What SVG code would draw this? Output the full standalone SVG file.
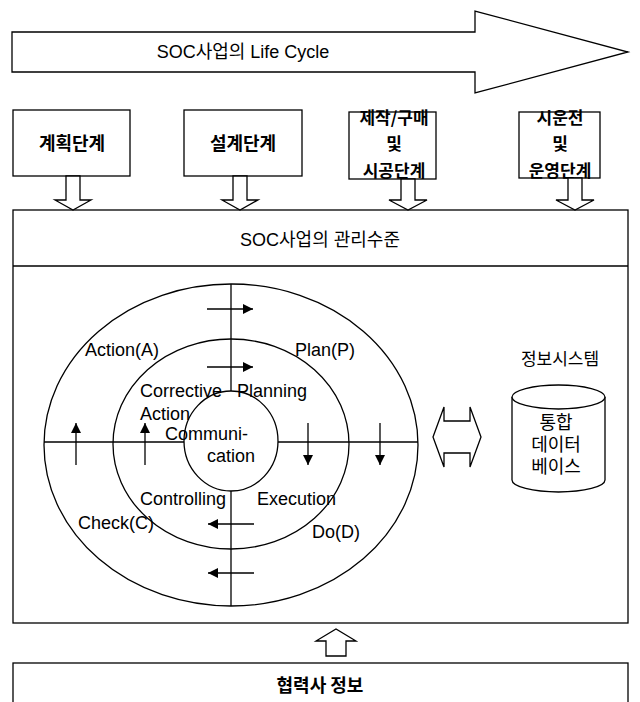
<svg xmlns="http://www.w3.org/2000/svg" width="640" height="702" viewBox="0 0 640 702">
<defs>
<style>
.ln{fill:none;stroke:#000;stroke-width:1.3}
.sh{fill:#fff;stroke:#000;stroke-width:1.3}
.kr{font-family:"Liberation Sans","Noto Sans CJK KR",sans-serif;fill:#000}
.krb{font-family:"Noto Sans CJK KR","Liberation Sans",sans-serif;font-weight:bold;fill:#000}
.en{font-family:"Liberation Sans",Arial,sans-serif;font-size:18px;fill:#000}
.ar{fill:none;stroke:#000;stroke-width:1.3}
</style>
<marker id="ah" markerUnits="userSpaceOnUse" markerWidth="11" markerHeight="11" refX="10" refY="5" orient="auto">
<path d="M0,0 L10,5 L0,10 Z" fill="#000"/>
</marker>
</defs>
<rect width="640" height="702" fill="#fff"/>

<g id="lifecycle">
<polygon class="sh" points="12,32 475,32 475,11 628,52 475,93 475,72 12,72"/>
<text class="kr" x="243" y="58" font-size="18" text-anchor="middle">SOC사업의 Life Cycle</text>
</g>

<g id="stage1">
<rect class="sh" x="13" y="110" width="117" height="66"/>
<text class="krb" x="72" y="150" font-size="18" text-anchor="middle">계획단계</text>
</g>
<g id="stage2">
<rect class="sh" x="184" y="110" width="118" height="66"/>
<text class="krb" x="243" y="150" font-size="18" text-anchor="middle">설계단계</text>
</g>
<g id="stage3">
<rect class="sh" x="349" y="112" width="87" height="67"/>
<text class="krb" x="394" y="124" font-size="17" text-anchor="middle">제작/구매</text>
<text class="krb" x="394" y="150" font-size="17" text-anchor="middle">및</text>
<text class="krb" x="394" y="177" font-size="17" text-anchor="middle">시공단계</text>
</g>
<g id="stage4">
<rect class="sh" x="519" y="112" width="81" height="66"/>
<text class="krb" x="560" y="124" font-size="17" text-anchor="middle">시운전</text>
<text class="krb" x="560" y="150" font-size="17" text-anchor="middle">및</text>
<text class="krb" x="560" y="177" font-size="17" text-anchor="middle">운영단계</text>
</g>

<g id="management">
<rect class="sh" x="13" y="210" width="615" height="413"/>
<line class="ln" x1="13" y1="266" x2="628" y2="266"/>
<text class="kr" x="320" y="246" font-size="18" text-anchor="middle">SOC사업의 관리수준</text>
</g>

<g id="pdca">
<ellipse class="ln" cx="231" cy="445" rx="187" ry="161"/>
<ellipse class="ln" cx="231" cy="444" rx="118" ry="105"/>
<ellipse class="ln" cx="231" cy="441" rx="47" ry="50"/>
<line class="ln" x1="44" y1="442" x2="184" y2="442"/>
<line class="ln" x1="278" y1="442" x2="418" y2="442"/>
<line class="ln" x1="231" y1="284" x2="231" y2="391"/>
<line class="ln" x1="231" y1="491" x2="231" y2="606"/>
<text class="en" x="85" y="356">Action(A)</text>
<text class="en" x="295" y="356">Plan(P)</text>
<text class="en" x="140" y="397">Corrective</text>
<text class="en" x="140" y="420">Action</text>
<text class="en" x="237" y="397">Planning</text>
<text class="en" x="165" y="440">Communi-</text>
<text class="en" x="207" y="462">cation</text>
<text class="en" x="140" y="505">Controlling</text>
<text class="en" x="257" y="505">Execution</text>
<text class="en" x="78" y="529">Check(C)</text>
<text class="en" x="312" y="538">Do(D)</text>
</g>

<g id="infosystem">
<text class="kr" x="560" y="365" font-size="17" text-anchor="middle">정보시스템</text>
<path class="sh" d="M512,397 V480 A46.5,12 0 0 0 605,480 V397"/>
<ellipse class="sh" cx="558.5" cy="397" rx="46.5" ry="12"/>
<text class="kr" x="556" y="429" font-size="18" text-anchor="middle">통합</text>
<text class="kr" x="556" y="451" font-size="18" text-anchor="middle">데이터</text>
<text class="kr" x="556" y="473" font-size="18" text-anchor="middle">베이스</text>
</g>

<g id="partner">
<rect class="sh" x="13" y="663" width="615" height="45"/>
<text class="krb" x="320" y="692" font-size="18" text-anchor="middle">협력사 정보</text>
</g>

<g id="connectors">
<polygon class="sh" points="66,176 80,176 80,200 91,200 73,210 55,200 66,200"/>
<polygon class="sh" points="233,176 247,176 247,200 258,200 240,210 222,200 233,200"/>
<polygon class="sh" points="401,179 415,179 415,200 427,200 408,210 389,200 401,200"/>
<polygon class="sh" points="568,178 582,178 582,200 594,200 575,210 556,200 568,200"/>
<polygon class="sh" points="326,656 346,656 346,641 356,641 336,629 316,641 326,641"/>
<polygon class="sh" points="433,437 444,407 444,421 470,421 470,407 481,437 470,467 470,453 444,453 444,467"/>
<line class="ar" x1="207" y1="309" x2="253" y2="309" marker-end="url(#ah)"/>
<line class="ar" x1="207" y1="367" x2="253" y2="367" marker-end="url(#ah)"/>
<line class="ar" x1="76" y1="465" x2="76" y2="423" marker-end="url(#ah)"/>
<line class="ar" x1="145" y1="465" x2="145" y2="423" marker-end="url(#ah)"/>
<line class="ar" x1="308" y1="423" x2="308" y2="465" marker-end="url(#ah)"/>
<line class="ar" x1="380" y1="423" x2="380" y2="465" marker-end="url(#ah)"/>
<line class="ar" x1="254" y1="524" x2="208" y2="524" marker-end="url(#ah)"/>
<line class="ar" x1="254" y1="573" x2="208" y2="573" marker-end="url(#ah)"/>
</g>
</svg>
